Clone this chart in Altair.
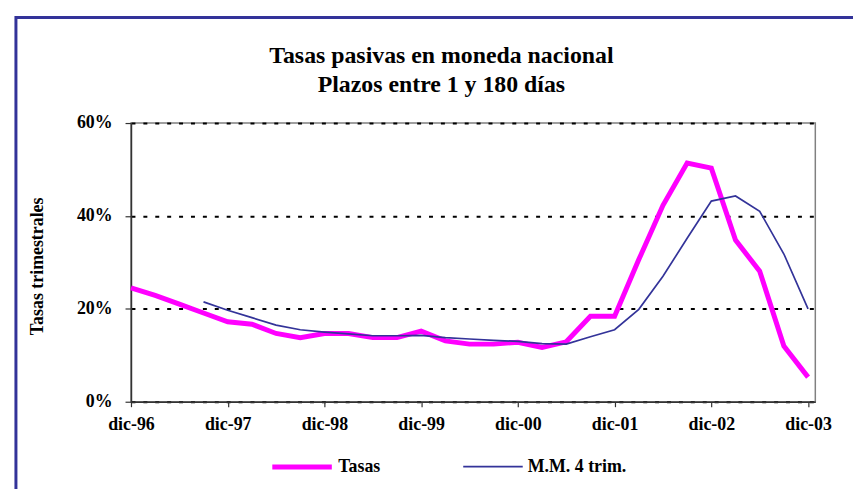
import altair as alt
import pandas as pd

# ---- data (quarterly, dic-96 .. dic-03) ----
year_labels = ["dic-96", "dic-97", "dic-98", "dic-99", "dic-00", "dic-01", "dic-02", "dic-03"]
tasas = [24.5, 22.9, 21.0, 19.1, 17.2, 16.7, 14.7, 13.8, 14.7, 14.7, 13.8, 13.8, 15.2, 13.1, 12.4,
         12.4, 12.8, 11.7, 12.9, 18.4, 18.4, 30.6, 42.3, 51.4, 50.3, 34.8, 28.1, 12.0, 5.3]
mm4 = [None, None, None, 21.5, 19.7, 18.1, 16.5, 15.5, 15.0, 14.6, 14.2, 14.2, 14.3, 13.8, 13.5,
       13.2, 13.0, 12.5, 12.4, 14.0, 15.5, 19.9, 27.0, 35.2, 43.2, 44.3, 41.0, 31.8, 20.0]
series_names = ["Tasas", "M.M. 4 trim."]
series_colors = ["#FF00FF", "#333399"]
series_widths = [5, 1.7]
y_ticks = [0, 20, 40, 60]

rows = []
for i, v in enumerate(tasas):
    rows.append({"t": i, "serie": series_names[0], "valor": v})
for i, v in enumerate(mm4):
    if v is not None:
        rows.append({"t": i, "serie": series_names[1], "valor": v})
df = pd.DataFrame(rows)

FONT = "Liberation Serif"
label_expr = "[" + ",".join("'%s'" % s for s in year_labels) + "][round(datum.value / 4)]"

x_enc = alt.X(
    "t:Q",
    scale=alt.Scale(domain=[0, 28.3], nice=False, zero=False),
    axis=alt.Axis(values=[4 * k for k in range(len(year_labels))], labelExpr=label_expr,
                  title=None, grid=False, tickSize=5, labelPadding=9, labelFontSize=18,
                  labelFlush=False, labelOverlap=False),
)
y_enc = alt.Y(
    "valor:Q",
    scale=alt.Scale(domain=[0, 60], nice=False),
    axis=alt.Axis(values=y_ticks, labelExpr="datum.value + '%'", title="Tasas trimestrales",
                  grid=True, gridColor="black", gridDash=[4, 8], gridWidth=2,
                  tickSize=6, labelPadding=13, titlePadding=30, labelFontSize=18,
                  titleFontSize=18, titleY=144, labelFlush=False, labelOverlap=False),
)
legend = alt.Legend(
    title=None, orient="none", direction="horizontal", legendX=140, legendY=314,
    symbolType="stroke", symbolSize=3600, labelFont=FONT, labelFontWeight="bold",
    labelFontSize=18, labelColor="black", labelOffset=4, columnPadding=79,
)
color_enc = alt.Color("serie:N", scale=alt.Scale(domain=series_names, range=series_colors),
                      legend=legend, sort=series_names)
width_enc = alt.StrokeWidth("serie:N", scale=alt.Scale(domain=series_names, range=series_widths),
                            legend=legend, sort=series_names)

base = alt.Chart(df)
line_tasas = base.transform_filter(alt.datum.serie == series_names[0]).mark_line().encode(
    x=x_enc, y=y_enc, color=color_enc, strokeWidth=width_enc)
line_mm = base.transform_filter(alt.datum.serie == series_names[1]).mark_line().encode(
    x=x_enc, y=y_enc, color=color_enc, strokeWidth=width_enc)

frame = alt.Chart(pd.DataFrame({"a": [0]})).mark_rect(filled=False, color="#333399", strokeWidth=3).encode(
    x=alt.value(-116), x2=alt.value(760), y=alt.value(-106.5), y2=alt.value(420))

chart = alt.layer(frame, line_tasas, line_mm).properties(
    width=690, height=281,
    padding={"left": 124, "top": 114, "right": 38, "bottom": 86},
    autosize=alt.AutoSizeParams(type="none"),
    background="white",
    title=alt.TitleParams(
        text=["Tasas pasivas en moneda nacional", "Plazos entre 1 y 180 días"],
        font=FONT, fontSize=24, fontWeight="bold", color="black", lineHeight=30,
        anchor="middle", dx=-32, offset=-82,
    ),
).configure_view(stroke="#808080", strokeWidth=1.5).configure_axis(
    labelFont=FONT, labelFontWeight="bold", labelColor="black",
    titleFont=FONT, titleFontWeight="bold", titleColor="black",
    domainColor="#333333", domainWidth=1.5, tickColor="#333333", tickWidth=1.2,
)

chart.save("out.html", embed_options={"renderer": "svg", "actions": False})
